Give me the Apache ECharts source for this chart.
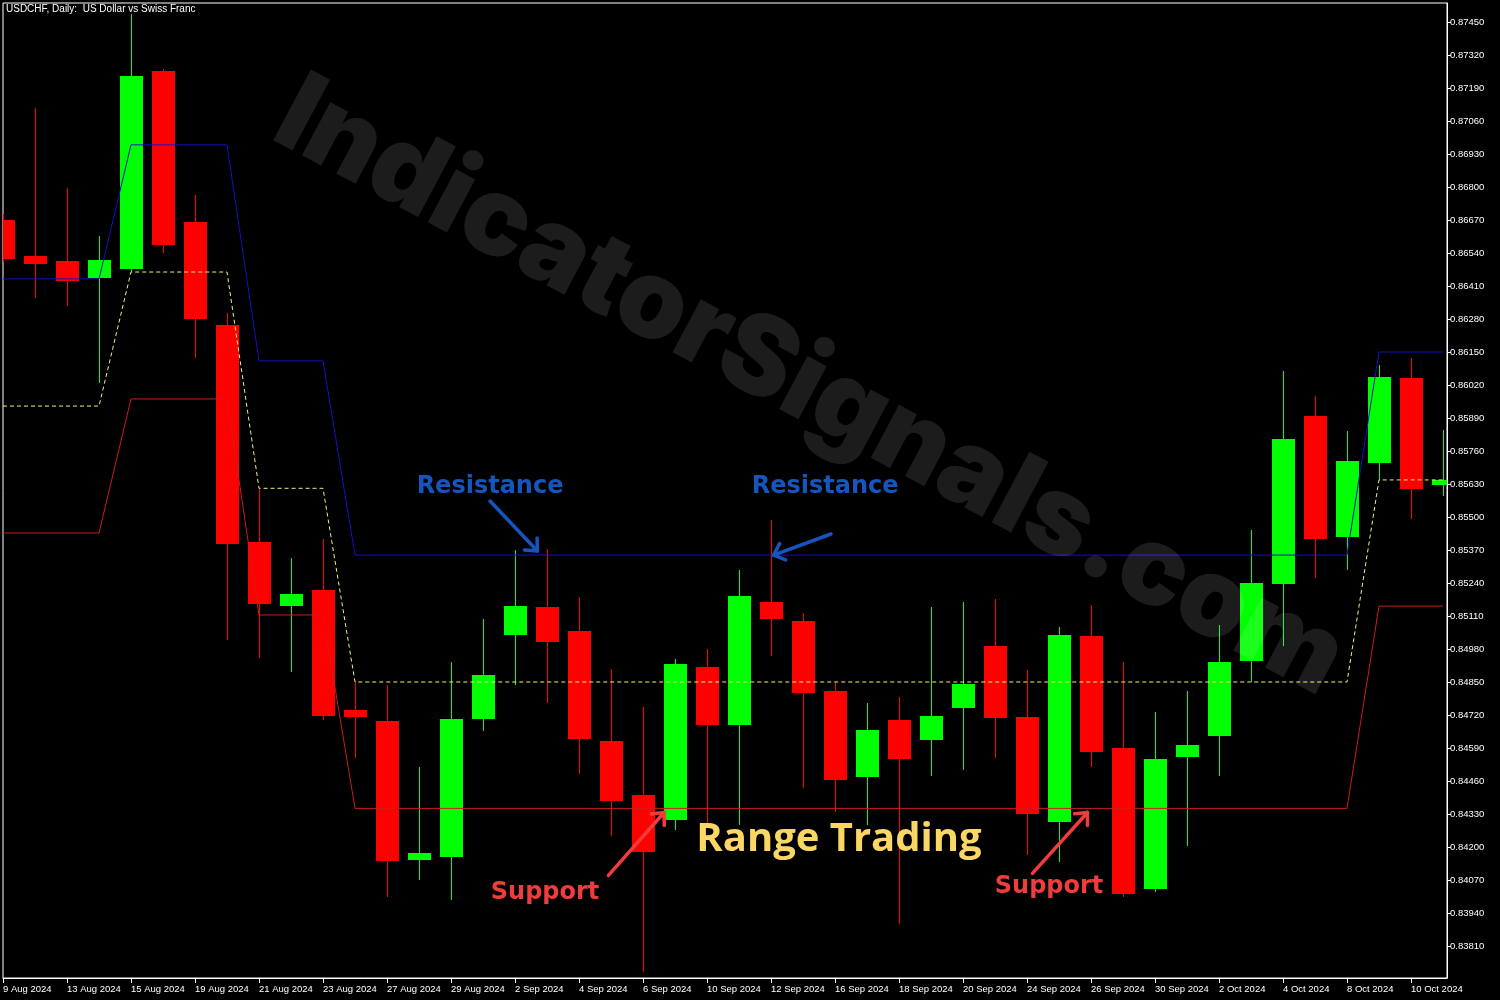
<!DOCTYPE html>
<html>
<head>
<meta charset="utf-8">
<script src="https://cdn.jsdelivr.net/npm/echarts@6/dist/echarts.min.js"></script>
<style>
html,body{margin:0;padding:0;background:#000;}
#chart{width:1500px;height:1000px;}
</style>
</head>
<body>
<div id="chart"></div>
<script>
const dates = ['9 Aug 2024','12 Aug 2024','13 Aug 2024','14 Aug 2024','15 Aug 2024','16 Aug 2024','19 Aug 2024','20 Aug 2024','21 Aug 2024','22 Aug 2024','23 Aug 2024','26 Aug 2024','27 Aug 2024','28 Aug 2024','29 Aug 2024','30 Aug 2024','2 Sep 2024','3 Sep 2024','4 Sep 2024','5 Sep 2024','6 Sep 2024','9 Sep 2024','10 Sep 2024','11 Sep 2024','12 Sep 2024','13 Sep 2024','16 Sep 2024','17 Sep 2024','18 Sep 2024','19 Sep 2024','20 Sep 2024','23 Sep 2024','24 Sep 2024','25 Sep 2024','26 Sep 2024','27 Sep 2024','30 Sep 2024','1 Oct 2024','2 Oct 2024','3 Oct 2024','4 Oct 2024','7 Oct 2024','8 Oct 2024','9 Oct 2024','10 Oct 2024','11 Oct 2024'];

const opens  = [0.86670,0.86528,0.86508,0.86443,0.86478,0.87257,0.86662,0.86256,0.85402,0.85151,0.85212,0.84739,0.84698,0.84148,0.84161,0.84706,0.85035,0.85144,0.85052,0.84618,0.84404,0.84308,0.84911,0.84682,0.85167,0.85092,0.84816,0.84474,0.84701,0.84620,0.84749,0.84993,0.84713,0.84299,0.85030,0.84590,0.84035,0.84553,0.84636,0.84933,0.85236,0.85898,0.85421,0.85714,0.86048,0.85626];
const highs  = [0.86694,0.87111,0.86796,0.86607,0.87482,0.87265,0.86769,0.86303,0.85613,0.85340,0.85413,0.84853,0.84840,0.84515,0.84929,0.85100,0.85369,0.85373,0.85183,0.84903,0.84753,0.84939,0.84980,0.85290,0.85490,0.85123,0.84848,0.84769,0.84792,0.85146,0.85167,0.85176,0.84896,0.85066,0.85155,0.84927,0.84733,0.84816,0.85076,0.85449,0.86075,0.85977,0.85839,0.86100,0.86126,0.85843];
const lows   = [0.86505,0.86364,0.86332,0.86028,0.86465,0.86540,0.86126,0.85016,0.84946,0.84888,0.84700,0.84549,0.84004,0.84068,0.83991,0.84658,0.84839,0.84769,0.84489,0.84242,0.83708,0.84266,0.84295,0.84287,0.84953,0.84431,0.84338,0.84288,0.83897,0.84479,0.84505,0.84551,0.84168,0.84141,0.84515,0.84004,0.84021,0.84202,0.84478,0.84849,0.84993,0.85261,0.85292,0.85646,0.85492,0.85584];
const closes = [0.86516,0.86498,0.86431,0.86512,0.87237,0.86573,0.86281,0.85393,0.85156,0.85197,0.84716,0.84712,0.84146,0.84178,0.84705,0.84879,0.85148,0.85007,0.84627,0.84383,0.84182,0.84922,0.84682,0.85190,0.85099,0.84805,0.84462,0.84662,0.84545,0.84716,0.84844,0.84709,0.84331,0.85034,0.84573,0.84015,0.84547,0.84602,0.84929,0.85240,0.85807,0.85413,0.85719,0.86052,0.85610,0.85645];

const upperBand  = [0.86438,0.86438,0.86438,0.86438,0.86966,0.86966,0.86966,0.86966,0.86115,0.86115,0.86115,0.85350,0.85350,0.85350,0.85350,0.85350,0.85350,0.85350,0.85350,0.85350,0.85350,0.85350,0.85350,0.85350,0.85350,0.85350,0.85350,0.85350,0.85350,0.85350,0.85350,0.85350,0.85350,0.85350,0.85350,0.85350,0.85350,0.85350,0.85350,0.85350,0.85350,0.85350,0.85350,0.86150,0.86150,0.86150];
const middleBand = [0.85937,0.85937,0.85937,0.85937,0.86465,0.86465,0.86465,0.86465,0.85613,0.85613,0.85613,0.84850,0.84850,0.84850,0.84850,0.84850,0.84850,0.84850,0.84850,0.84850,0.84850,0.84850,0.84850,0.84850,0.84850,0.84850,0.84850,0.84850,0.84850,0.84850,0.84850,0.84850,0.84850,0.84850,0.84850,0.84850,0.84850,0.84850,0.84850,0.84850,0.84850,0.84850,0.84850,0.85646,0.85646,0.85646];
const lowerBand  = [0.85437,0.85437,0.85437,0.85437,0.85965,0.85965,0.85965,0.85965,0.85114,0.85114,0.85114,0.84352,0.84352,0.84352,0.84352,0.84352,0.84352,0.84352,0.84352,0.84352,0.84352,0.84352,0.84352,0.84352,0.84352,0.84352,0.84352,0.84352,0.84352,0.84352,0.84352,0.84352,0.84352,0.84352,0.84352,0.84352,0.84352,0.84352,0.84352,0.84352,0.84352,0.84352,0.84352,0.85149,0.85149,0.85149];

const priceTicks = [0.83810,0.83940,0.84070,0.84200,0.84330,0.84460,0.84590,0.84720,0.84850,0.84980,0.85110,0.85240,0.85370,0.85500,0.85630,0.85760,0.85890,0.86020,0.86150,0.86280,0.86410,0.86540,0.86670,0.86800,0.86930,0.87060,0.87190,0.87320,0.87450];
const dateTickIdx = [0,2,4,6,8,10,12,14,16,18,20,22,24,26,28,30,32,34,36,38,40,42,44];

// annotations in data space [barIndex, price]
const noteTexts = [
  {text:'Resistance', at:[15.22,0.85618], kind:'res'},
  {text:'Resistance', at:[25.69,0.85618], kind:'res'},
  {text:'Support', at:[16.94,0.84021], kind:'sup'},
  {text:'Support', at:[32.69,0.84042], kind:'sup'},
  {text:'Range Trading', at:[26.125,0.84231], kind:'range'}
];
const noteArrows = [
  {from:[15.22,0.85563], to:[16.70,0.85366], kind:'res'},
  {from:[25.875,0.85433], to:[24.08,0.85350], kind:'res'},
  {from:[18.92,0.84088], to:[20.66,0.84336], kind:'sup'},
  {from:[32.17,0.84096], to:[33.89,0.84336], kind:'sup'}
];

const candleData = dates.map((d,i)=>[i, opens[i], closes[i], lows[i], highs[i]]);
const toLine = arr => arr.map((v,i)=>[i,v]);

const kindStyle = {
  res:{color:'#1655bd', font:'bold 24px "DejaVu Sans"'},
  sup:{color:'#f03c3c', font:'bold 24px "DejaVu Sans"'},
  range:{color:'#fad764', font:'bold 40px "Open Sans"'}
};

const chart = echarts.init(document.getElementById('chart'), null, {renderer:'canvas'});
const axisFont = '"Liberation Sans", Arial, sans-serif';

chart.setOption({
  animation:false,
  backgroundColor:'#000000',
  grid:{left:3, top:3, right:53, bottom:22, show:true, borderColor:'#ffffff', borderWidth:1, backgroundColor:'#000000'},
  xAxis:{
    type:'value', min:0, max:45.125,
    splitLine:{show:false},
    axisLine:{show:true, onZero:false, lineStyle:{color:'#ffffff', width:1}},
    axisTick:{show:true, length:5, customValues:dateTickIdx, lineStyle:{color:'#ffffff'}},
    axisLabel:{show:true, customValues:dateTickIdx, color:'#ffffff', fontSize:9.5, fontFamily:axisFont, margin:6, align:'left', hideOverlap:false,
      formatter:(v)=>dates[Math.round(v)]}
  },
  yAxis:{
    type:'value', position:'right', min:0.836839, max:0.875248, scale:true,
    splitLine:{show:false},
    axisLine:{show:true, onZero:false, lineStyle:{color:'#ffffff', width:1}},
    axisTick:{show:true, length:4, customValues:priceTicks, lineStyle:{color:'#ffffff'}},
    axisLabel:{show:true, customValues:priceTicks, color:'#ffffff', fontSize:9.5, fontFamily:axisFont, margin:3,
      formatter:(v)=>v.toFixed(5)}
  },
  graphic:[
    {type:'text', left:6, top:4, z:200, style:{text:'USDCHF, Daily:  US Dollar vs Swiss Franc', fill:'#ffffff', font:'10px "Liberation Sans", Arial, sans-serif'}},
    {type:'text', x:810, y:388, rotation:-28*Math.PI/180, z:150, silent:true,
      style:{text:'IndicatorSignals.com', fill:'rgba(255,255,255,0.11)', font:'900 110px Inter, "Open Sans", sans-serif', align:'center', verticalAlign:'middle', textAlign:'center', textVerticalAlign:'middle'}}
  ],
  series:[
    {
      type:'custom', name:'candles', clip:true, z:2,
      data:candleData,
      renderItem:(params, api)=>{
        const i=api.value(0), o=api.value(1), c=api.value(2), l=api.value(3), h=api.value(4);
        const pO=api.coord([i,o]), pC=api.coord([i,c]), pL=api.coord([i,l]), pH=api.coord([i,h]);
        const x=Math.round(pO[0]);
        const w=Math.round(api.size([1,0])[0]*0.72);
        const color = c>=o ? '#00ff00' : '#ff0000';
        const top=Math.round(Math.min(pO[1],pC[1])), bot=Math.round(Math.max(pO[1],pC[1]));
        return {type:'group', children:[
          {type:'line', shape:{x1:x+0.5,y1:Math.round(pH[1]),x2:x+0.5,y2:Math.round(pL[1])}, style:{stroke:color, lineWidth:1}},
          {type:'rect', shape:{x:x-Math.floor(w/2), y:top, width:w, height:Math.max(bot-top,2)}, style:{fill:color}}
        ]};
      }
    },
    {type:'line', name:'upper', data:toLine(upperBand), showSymbol:false, symbol:'none', clip:true, z:3,
      lineStyle:{color:'#1212c4', width:1}},
    {type:'line', name:'middle', data:toLine(middleBand), showSymbol:false, symbol:'none', clip:true, z:3,
      lineStyle:{color:'#f2f27e', width:1, type:[4,3]}},
    {type:'line', name:'lower', data:toLine(lowerBand), showSymbol:false, symbol:'none', clip:true, z:3,
      lineStyle:{color:'#cc1c1c', width:1}},
    {
      type:'custom', name:'notes', clip:false, z:10, silent:true,
      data:[0],
      renderItem:(params, api)=>{
        const children=[];
        noteArrows.forEach(a=>{
          const st=kindStyle[a.kind];
          const p1=api.coord(a.from), p2=api.coord(a.to);
          const dx=p2[0]-p1[0], dy=p2[1]-p1[1], len=Math.hypot(dx,dy);
          const ux=-dx/len, uy=-dy/len, L=13, ang=42*Math.PI/180;
          const w1=[p2[0]+L*(ux*Math.cos(ang)-uy*Math.sin(ang)), p2[1]+L*(ux*Math.sin(ang)+uy*Math.cos(ang))];
          const w2=[p2[0]+L*(ux*Math.cos(-ang)-uy*Math.sin(-ang)), p2[1]+L*(ux*Math.sin(-ang)+uy*Math.cos(-ang))];
          children.push({type:'line', shape:{x1:p1[0],y1:p1[1],x2:p2[0],y2:p2[1]}, style:{stroke:st.color, lineWidth:3.5, lineCap:'round'}});
          children.push({type:'polyline', shape:{points:[w1,p2,w2]}, style:{stroke:st.color, fill:null, lineWidth:3.5, lineCap:'round', lineJoin:'round'}});
        });
        noteTexts.forEach(t=>{
          const st=kindStyle[t.kind];
          const p=api.coord(t.at);
          children.push({type:'text', x:p[0], y:p[1], style:{text:t.text, fill:st.color, font:st.font, align:'center', verticalAlign:'middle', textAlign:'center', textVerticalAlign:'middle'}});
        });
        return {type:'group', children};
      }
    }
  ]
});
</script>
</body>
</html>
